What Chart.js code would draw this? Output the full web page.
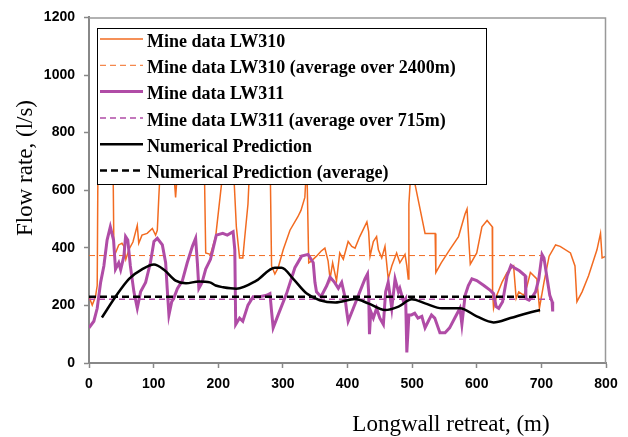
<!DOCTYPE html>
<html>
<head>
<meta charset="utf-8">
<script src="https://cdn.jsdelivr.net/npm/chart.js@4.4.0/dist/chart.umd.min.js"></script>
<style>
  html, body { margin: 0; padding: 0; background: #fff; }
  #wrap { width: 628px; height: 437px; }
</style>
</head>
<body>
<div id="wrap"><canvas id="flow" width="628" height="437"></canvas></div>
<script>
// ---- measured flow, LW310 (m retreat / l/s) ----
const lw310Dist = [0,5,10,12.7,14,25,37,38.5,41,46,51,54,57,62,68,74.7,77,82,90,98,103,105.7,108,112,130,134,138,178,180.6,188,196,205,210,222,228,233,238,240.6,246,250,280,282.5,287.6,292.7,300.5,311,323,328,334,337,340,344,352,359,365,370,373,377,383,388,393.5,401,406.6,411.7,419,430,432.7,434.9,440,445,447.8,453,458,463,468.5,476,481,489,491.8,494,495,499,504.6,520,535.6,536.7,545,558,571.8,582,585,588,590,600,608,616,624,624.5,626,631,639,647,657,661,665,673,678,683,693,697,704,712,722,729,745,752,755,763,773,786,791.5,794,800];
const lw310Flow = [230,201,230,269,750,800,750,393,382,410,416,405,360,395,420,478,416,444,450,467,444,461,575,750,700,575,700,750,382,377,439,620,750,750,473,365,365,427,552,750,750,337,309,331,393,461,507,530,575,700,348,354,371,388,399,354,292,348,285,382,360,422,405,399,439,490,456,371,422,439,393,365,405,292,337,382,348,377,337,292,552,700,619,450,450,314,348,393,439,518,535,416,343,382,473,495,473,247,190,235,280,314,337,224,247,235,269,314,292,190,280,371,410,405,382,337,213,247,303,393,450,365,371];

// ---- measured flow, LW311 ----
const lw311Dist = [0,7.5,12.7,18,23,28,33,38,41,46,49,54,56.6,60,64,69.5,74.7,79.8,87.6,95,100.5,105.7,113.5,118.6,121,123.7,128,131,136.7,144.5,152,160,165,167.7,170,175,180.6,188,197,207,214,223,225.6,227,233,238,246,254,264,275,280,282.5,285,292.7,305.7,318.6,329,339,347,349.6,352,359,368,373,380,385.8,391,396,398.8,401,409,419,427,431,432.7,434,436,440,445,450,455.5,459,463,468.5,473.6,478.8,481,486.7,490,491.8,495,499,504,509,515,520,525,530,535,543,551,558,566,574,577,582,587,592.5,600,611,621,626,630,634,640,647,653,658,666,675,676,681,686,691,696,701,704,709,713,716.6,717.5];
const lw311Flow = [122,145,190,280,337,427,473,427,326,348,324,371,439,427,337,247,190,247,280,348,422,433,410,348,259,167,213,224,258,286,348,405,433,348,259,280,326,360,444,450,444,456,393,134,156,145,201,230,230,235,241,179,122,167,241,331,371,377,348,280,247,230,269,298,280,259,280,230,179,145,190,247,292,309,247,100,179,156,190,156,134,247,280,190,292,247,259,213,224,37,167,167,173,156,162,122,145,167,156,105,105,122,156,190,134,235,269,292,286,269,252,241,196,190,213,303,339,331,320,303,224,218,230,247,292,377,365,292,235,213,179];

// ---- numerical prediction ----
const predDist = [20,41,62,82.5,100.5,116,134,150,170,187,196,207.5,228,259,287.6,298,316,337,357,381,412,432,458,479,499.5,520,546,574,600,626,652,678,698];
const predFlow = [158,230,292,326,342,324,286,277,283,280,269,263,258,286,331,331,292,241,218,210,222,207,184,196,221,207,190,190,162,141,156,173,184];

// averages: [value, end of averaged length]
const lw310Avg = [373, 700];
const lw311Avg = [221, 716];
const predAvg = [230, 698];

const ORANGE = '#f26b21';
const PURPLE = '#b04ca6';
const BLACK = '#000';

const pts = (xs, ys) => xs.map((x, i) => ({ x, y: ys[i] }));
const flat = ([v, to]) => [{ x: 0, y: v }, { x: to, y: v }];

const tickFont = { family: "'Liberation Sans', Arial, sans-serif", weight: 'bold', size: 14 };
const serif = "'Liberation Serif', 'Times New Roman', serif";

// plot frame + white legend box drawn over the lines, then axis titles
const legendBox = {
  id: 'legendBox',
  afterDatasetsDraw(chart) {
    const { ctx, chartArea: a } = chart;
    ctx.save();
    ctx.strokeStyle = '#999';
    ctx.lineWidth = 1.5;
    ctx.beginPath();
    ctx.moveTo(a.left, a.top + 0.5);
    ctx.lineTo(a.right - 0.5, a.top + 0.5);
    ctx.lineTo(a.right - 0.5, a.bottom);
    ctx.stroke();

    ctx.fillStyle = '#fff';
    ctx.fillRect(97, 28, 390, 157);
    ctx.strokeStyle = '#000';
    ctx.lineWidth = 1;
    ctx.strokeRect(97.5, 28.5, 389, 156);

    ctx.font = 'bold 18px ' + serif;
    ctx.textBaseline = 'middle';
    chart.data.datasets.forEach((ds, i) => {
      const y = 42 + i * 26.3;
      ctx.strokeStyle = ds.borderColor;
      ctx.lineWidth = ds.borderWidth;
      ctx.setLineDash(ds.borderDash || []);
      ctx.beginPath();
      ctx.moveTo(100, y - 3);
      ctx.lineTo(143, y - 3);
      ctx.stroke();
      ctx.setLineDash([]);
      ctx.fillStyle = '#000';
      ctx.fillText(ds.label, 147, y);
    });
    ctx.restore();
  },
  afterDraw(chart) {
    const { ctx } = chart;
    ctx.save();
    ctx.fillStyle = '#000';
    ctx.font = '23px ' + serif;
    ctx.textAlign = 'center';
    ctx.textBaseline = 'middle';
    ctx.fillText('Longwall retreat, (m)', 451, 425);
    ctx.translate(26, 168);
    ctx.rotate(-Math.PI / 2);
    ctx.fillText('Flow rate, (l/s)', 0, 0);
    ctx.restore();
  }
};

new Chart(document.getElementById('flow'), {
  type: 'line',
  data: {
    datasets: [
      { label: 'Mine data LW310', data: pts(lw310Dist, lw310Flow), borderColor: ORANGE, borderWidth: 1.5, order: 2 },
      { label: 'Mine data LW310 (average over 2400m)', data: flat(lw310Avg), borderColor: ORANGE, borderWidth: 1, borderDash: [6, 4], order: 2 },
      { label: 'Mine data LW311', data: pts(lw311Dist, lw311Flow), borderColor: PURPLE, borderWidth: 3, order: 1 },
      { label: 'Mine data LW311 (average over 715m)', data: flat(lw311Avg), borderColor: PURPLE, borderWidth: 1.5, borderDash: [6, 4], order: 1 },
      { label: 'Numerical Prediction', data: pts(predDist, predFlow), borderColor: BLACK, borderWidth: 2.5, tension: 0.4, cubicInterpolationMode: 'monotone', order: 0 },
      { label: 'Numerical Prediction (average)', data: flat(predAvg), borderColor: BLACK, borderWidth: 2.5, borderDash: [7, 4], order: 0 }
    ]
  },
  options: {
    responsive: false,
    animation: false,
    layout: { padding: { top: 9, right: 22, left: 0, bottom: 0 } },
    elements: { point: { radius: 0 }, line: { fill: false } },
    plugins: { legend: { display: false }, tooltip: { enabled: false } },
    scales: {
      x: {
        type: 'linear', min: 0, max: 800,
        ticks: { stepSize: 100, color: '#000', font: tickFont, padding: 8, maxRotation: 0, callback: v => String(v) },
        grid: { drawOnChartArea: false, tickLength: 5, tickColor: '#888', tickWidth: 1.5 },
        border: { color: '#888', width: 2 },
        afterFit: s => { s.height = 74; }
      },
      y: {
        min: 0, max: 1200,
        ticks: { stepSize: 200, color: '#000', font: tickFont, padding: 9, callback: v => String(v) },
        grid: { drawOnChartArea: false, tickLength: 5, tickColor: '#888', tickWidth: 1.5 },
        border: { color: '#888', width: 2 },
        afterFit: s => { s.width = 89; }
      }
    }
  },
  plugins: [legendBox]
});
</script>
</body>
</html>
